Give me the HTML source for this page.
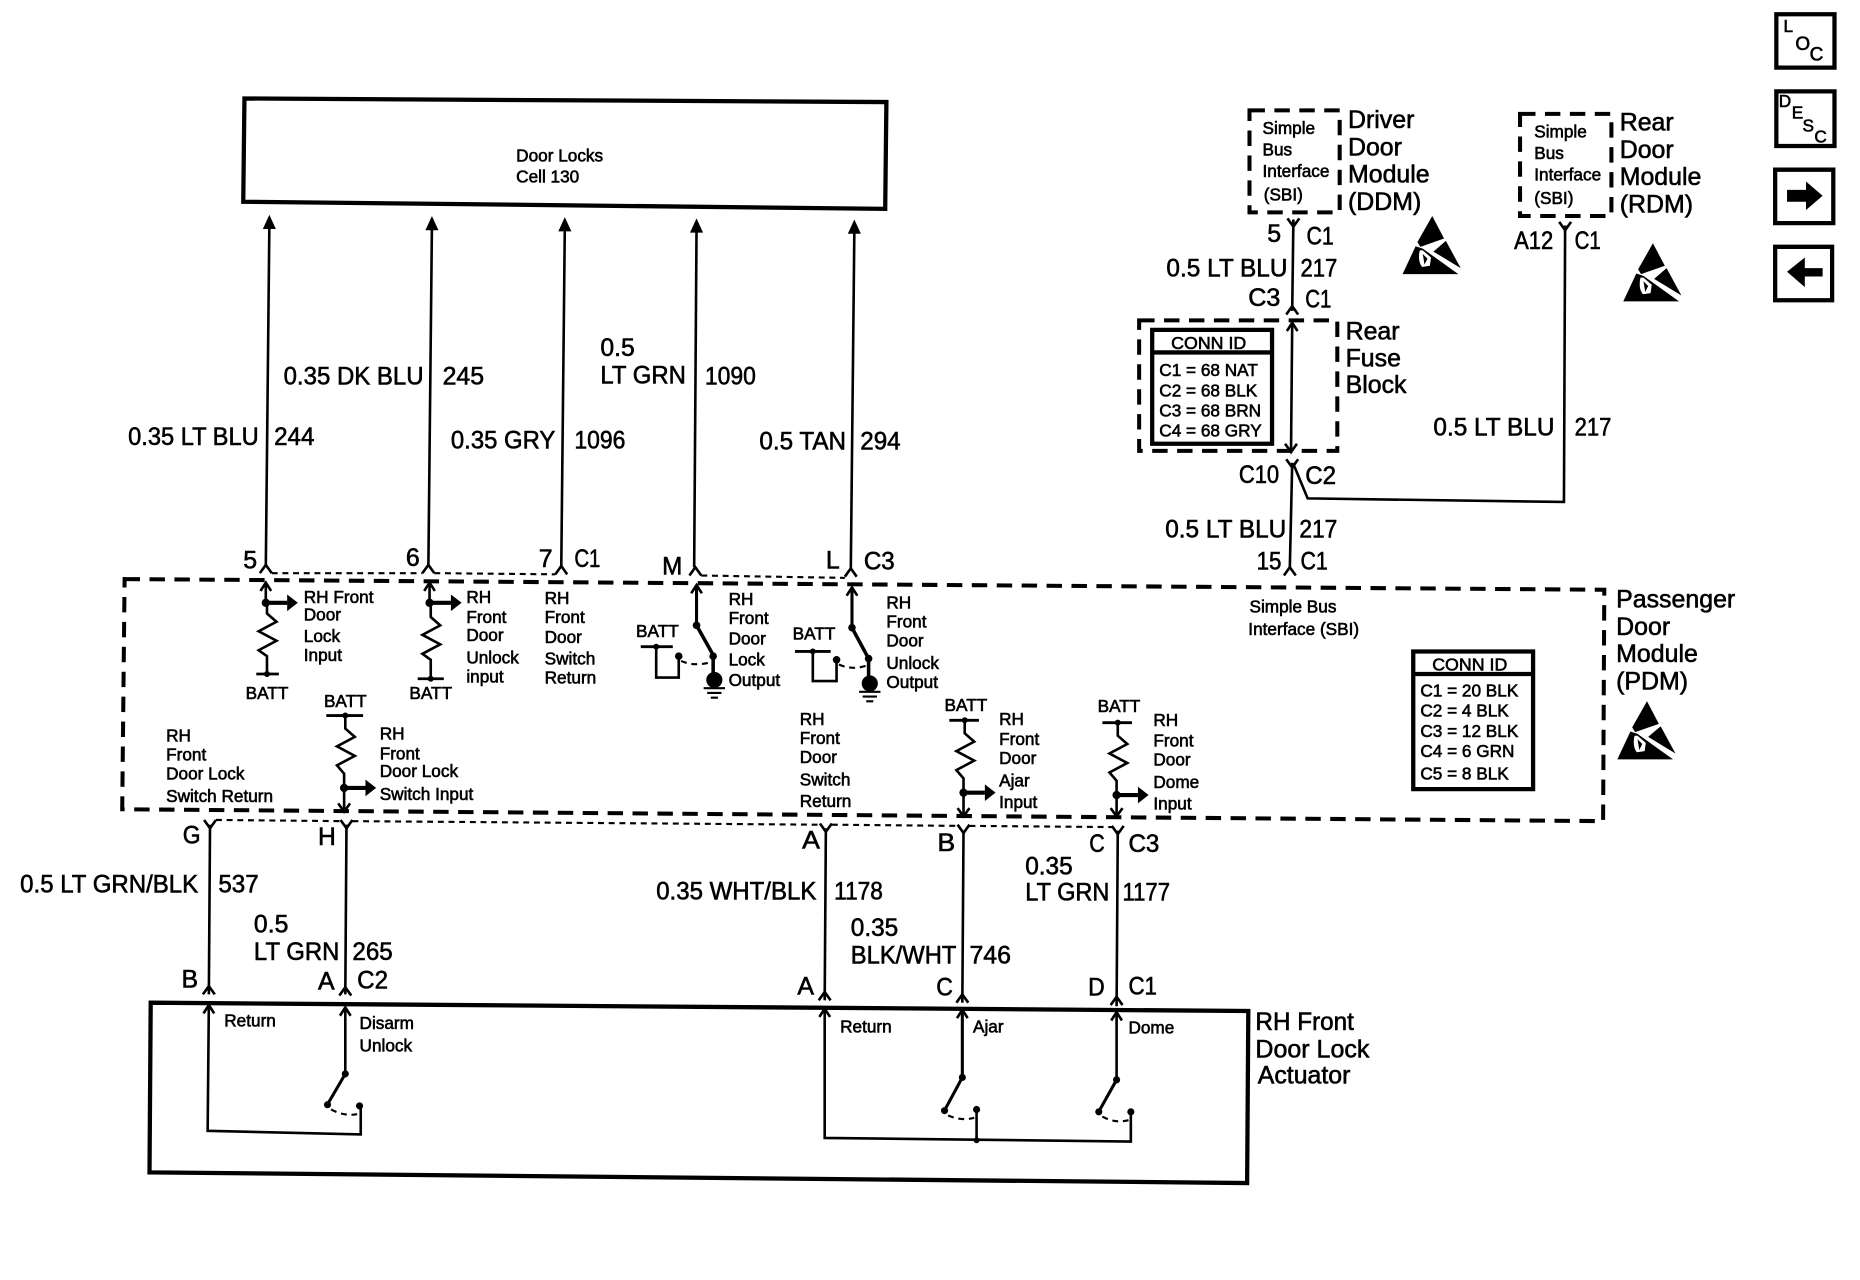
<!DOCTYPE html>
<html><head><meta charset="utf-8"><style>
html,body{margin:0;padding:0;background:#fff}
svg{display:block}
text{font-family:"Liberation Sans",sans-serif;fill:#000;stroke:#000;stroke-width:.5}
.b{font-size:21px}.s{font-size:14.5px}.n{font-size:14.5px}
.w{fill:none;stroke:#000;stroke-width:2.2}
.t{fill:none;stroke:#000;stroke-width:3.6}
.d{fill:none;stroke:#000;stroke-width:3.4;stroke-dasharray:13 8}
.h{fill:none;stroke:#000;stroke-width:1.8;stroke-dasharray:5 4}
.f{fill:#000;stroke:none}
</style></head><body>
<svg xmlns="http://www.w3.org/2000/svg" width="1860" height="1280" viewBox="0 0 1567.5 1078.7">
<defs>
<path id="c" d="M-5,7L0,0L5,7" fill="none" stroke="#000" stroke-width="2.2"/>
<path id="y" d="M-5,-7L0,0L5,-7" fill="none" stroke="#000" stroke-width="2.2"/>
<path id="a" d="M-5.5,12L0,0L5.5,12Z" fill="#000"/>
<path id="u" d="M-4.5,7L0,0L4.5,7" fill="none" stroke="#000" stroke-width="2.2"/>
<g id="e"><path d="M25,0L35,19L15,26L12.5,22Z"/><path d="M36.5,21L49,44L26,30Z"/><path d="M11,25.5L0,49H47L17,27.5Z"/><path d="M14.5,29Q12.5,38 16.5,43L23,42L24,35L17,29Z" fill="#fff"/><path d="M17,32L18.5,41L21,36Z"/></g>
<g id="r"><circle r="3.5" class="f"/><path d="M0,0H18" stroke="#000" stroke-width="3.5"/><path d="M18,-7L27,0L18,7Z" fill="#000"/></g>
</defs>
<path class="t" d="M206,83L747,86L746,176L205,170Z"/>
<text class="s" x="435" y="136">Door Locks</text><text class="s" x="435" y="154">Cell 130</text>

<path class="w" d="M224,478L227,190M361,478L364,190M473,478L476,190M585,478L587,192M717,480L720,194"/>
<use href="#a" x="227" y="181"/><use href="#a" x="364" y="182"/><use href="#a" x="476" y="183"/><use href="#a" x="587" y="184"/><use href="#a" x="720" y="185"/>
<use href="#c" x="224" y="476"/><use href="#c" x="361" y="476"/><use href="#c" x="473" y="477"/><use href="#c" x="586" y="478"/><use href="#c" x="717" y="479"/>
<path class="h" d="M229,483L356,483M366,483L468,484M591,485L712,487M182,691L287,692M297,692L691,695M701,695L807,696M817,696L937,697"/>

<text class="b" x="108" y="375" textLength="110" lengthAdjust="spacingAndGlyphs">0.35 LT BLU</text><text class="b" x="231" y="375" textLength="34" lengthAdjust="spacingAndGlyphs">244</text>
<text class="b" x="239" y="324" textLength="118" lengthAdjust="spacingAndGlyphs">0.35 DK BLU</text><text class="b" x="373" y="324" textLength="35" lengthAdjust="spacingAndGlyphs">245</text>
<text class="b" x="380" y="378" textLength="88" lengthAdjust="spacingAndGlyphs">0.35 GRY</text><text class="b" x="484" y="378" textLength="43" lengthAdjust="spacingAndGlyphs">1096</text>
<text class="b" x="506" y="300" textLength="29" lengthAdjust="spacingAndGlyphs">0.5</text><text class="b" x="506" y="323" textLength="72" lengthAdjust="spacingAndGlyphs">LT GRN</text><text class="b" x="594" y="324" textLength="43" lengthAdjust="spacingAndGlyphs">1090</text>
<text class="b" x="640" y="379" textLength="73" lengthAdjust="spacingAndGlyphs">0.5 TAN</text><text class="b" x="725" y="379" textLength="34" lengthAdjust="spacingAndGlyphs">294</text>

<text class="b" x="205" y="479">5</text><text class="b" x="342" y="477">6</text><text class="b" x="454" y="478">7</text><text class="b" x="484" y="478" textLength="22" lengthAdjust="spacingAndGlyphs">C1</text>
<text class="b" x="558" y="484" textLength="17" lengthAdjust="spacingAndGlyphs">M</text><text class="b" x="696" y="479">L</text><text class="b" x="728" y="480" textLength="26" lengthAdjust="spacingAndGlyphs">C3</text>

<path class="d" d="M105,488L1352,497L1351,692L103,682Z"/>

<!-- RH Front Door Lock Input -->
<path class="w" d="M224,491V508M225,508V517L233,524L218,532L233,540L218,548L225,553V568"/><use href="#u" x="224" y="491"/>
<use href="#r" x="224" y="508"/><path d="M216,568H235" stroke="#000" stroke-width="2.4"/><circle cx="225" cy="568" r="2.5"/>
<text class="n" x="207" y="589" textLength="36" lengthAdjust="spacingAndGlyphs">BATT</text>
<text class="s" x="256" y="508">RH Front</text><text class="s" x="256" y="523">Door</text><text class="s" x="256" y="541">Lock</text><text class="s" x="256" y="557">Input</text>
<!-- Unlock Input -->
<path class="w" d="M362,491V508M363,508V520L371,527L356,535L371,543L356,551L363,556V572"/><use href="#u" x="362" y="491"/>
<use href="#r" x="362" y="508"/><path d="M352,572H374" stroke="#000" stroke-width="2.4"/><circle cx="363" cy="572" r="2.5"/>
<text class="n" x="345" y="589" textLength="36" lengthAdjust="spacingAndGlyphs">BATT</text>
<text class="s" x="393" y="508">RH</text><text class="s" x="393" y="525">Front</text><text class="s" x="393" y="540">Door</text><text class="s" x="393" y="559">Unlock</text><text class="s" x="393" y="575">input</text>
<text class="s" x="459" y="509">RH</text><text class="s" x="459" y="525">Front</text><text class="s" x="459" y="542">Door</text><text class="s" x="459" y="560">Switch</text><text class="s" x="459" y="576">Return</text>

<!-- Lock Output -->
<path class="w" d="M587,493V527" style="stroke-width:2.6"/><use href="#u" x="587" y="493"/><path d="M587,527L601,552V572" fill="none" stroke="#000" stroke-width="3"/>
<circle cx="587" cy="527" r="3.2"/><circle cx="601" cy="553" r="3.2"/><circle cx="572" cy="553" r="3.2"/>
<path d="M574,557Q585,562 599,558" class="h"/>
<circle cx="602" cy="573" r="6.8"/><path d="M593,580H611M596,584H608M599,588H605" stroke="#000" stroke-width="1.8"/>
<path d="M540,545H567" stroke="#000" stroke-width="2.4"/><circle cx="553" cy="545" r="2.5"/><path class="w" d="M553,545V571H572V553"/>
<text class="n" x="536" y="537" textLength="36" lengthAdjust="spacingAndGlyphs">BATT</text>
<text class="s" x="614" y="510">RH</text><text class="s" x="614" y="526">Front</text><text class="s" x="614" y="543">Door</text><text class="s" x="614" y="561">Lock</text><text class="s" x="614" y="578">Output</text>
<!-- Unlock Output -->
<path class="w" d="M718,495V529" style="stroke-width:2.6"/><use href="#u" x="718" y="495"/><path d="M718,529L732,555V575" fill="none" stroke="#000" stroke-width="3"/>
<circle cx="718" cy="529" r="3.2"/><circle cx="732" cy="555" r="3.2"/><circle cx="705" cy="556" r="3.2"/>
<path d="M707,560Q718,565 730,561" class="h"/>
<circle cx="733" cy="576" r="6.8"/><path d="M724,583H742M727,587H739M730,591H736" stroke="#000" stroke-width="1.8"/>
<path d="M670,549H700" stroke="#000" stroke-width="2.4"/><circle cx="685" cy="549" r="2.5"/><path class="w" d="M685,549V574H705V556"/>
<text class="n" x="668" y="539" textLength="36" lengthAdjust="spacingAndGlyphs">BATT</text>
<text class="s" x="747" y="513">RH</text><text class="s" x="747" y="529">Front</text><text class="s" x="747" y="545">Door</text><text class="s" x="747" y="564">Unlock</text><text class="s" x="747" y="580">Output</text>

<!-- Switch Input -->
<text class="n" x="273" y="596" textLength="36" lengthAdjust="spacingAndGlyphs">BATT</text>
<path d="M275,603H306" stroke="#000" stroke-width="2.4"/><circle cx="291" cy="603" r="2.5"/>
<path class="w" d="M291,603V614L299,621L284,629L299,637L284,645L290,652V684"/><use href="#y" x="290" y="684"/>
<use href="#r" x="290" y="664"/>
<text class="s" x="320" y="623">RH</text><text class="s" x="320" y="640">Front</text><text class="s" x="320" y="655">Door Lock</text><text class="s" x="320" y="674">Switch Input</text>
<text class="s" x="140" y="625">RH</text><text class="s" x="140" y="641">Front</text><text class="s" x="140" y="657">Door Lock</text><text class="s" x="140" y="676">Switch Return</text>
<text class="s" x="674" y="611">RH</text><text class="s" x="674" y="627">Front</text><text class="s" x="674" y="643">Door</text><text class="s" x="674" y="662">Switch</text><text class="s" x="674" y="680">Return</text>
<!-- Ajar -->
<text class="n" x="796" y="599" textLength="36" lengthAdjust="spacingAndGlyphs">BATT</text>
<path d="M800,607H825" stroke="#000" stroke-width="2.4"/><circle cx="813" cy="607" r="2.5"/>
<path class="w" d="M813,607V618L821,625L806,633L821,641L806,649L812,656V688"/><use href="#y" x="812" y="688"/>
<use href="#r" x="812" y="668"/>
<text class="s" x="842" y="611">RH</text><text class="s" x="842" y="628">Front</text><text class="s" x="842" y="644">Door</text><text class="s" x="842" y="663">Ajar</text><text class="s" x="842" y="681">Input</text>
<!-- Dome -->
<text class="n" x="925" y="600" textLength="36" lengthAdjust="spacingAndGlyphs">BATT</text>
<path d="M929,609H954" stroke="#000" stroke-width="2.4"/><circle cx="942" cy="609" r="2.5"/>
<path class="w" d="M942,609V620L950,627L935,635L950,643L935,651L941,658V688"/><use href="#y" x="941" y="688"/>
<use href="#r" x="941" y="670"/>
<text class="s" x="972" y="612">RH</text><text class="s" x="972" y="629">Front</text><text class="s" x="972" y="645">Door</text><text class="s" x="972" y="664">Dome</text><text class="s" x="972" y="682">Input</text>

<text class="s" x="1053" y="516">Simple Bus</text><text class="s" x="1052" y="535">Interface (SBI)</text>
<path class="t" d="M1191,549H1292V665H1191ZM1191,568H1292"/>
<text class="s" x="1207" y="565" style="font-size:15px">CONN ID</text>
<text class="s" x="1197" y="587">C1 = 20 BLK</text><text class="s" x="1197" y="604">C2 = 4 BLK</text><text class="s" x="1197" y="621">C3 = 12 BLK</text><text class="s" x="1197" y="638">C4 = 6 GRN</text><text class="s" x="1197" y="657">C5 = 8 BLK</text>
<text class="b" x="1362" y="512">Passenger</text><text class="b" x="1362" y="535">Door</text><text class="b" x="1362" y="558">Module</text><text class="b" x="1362" y="581">(PDM)</text>
<use href="#e" x="1363" y="591"/>

<!-- lower wires -->
<path class="w" d="M177,695L176,838M292,695L291,838M696,698L695,843M812,700L811,845M942,700L941,848"/>
<use href="#y" x="177" y="698"/><use href="#y" x="292" y="698"/><use href="#y" x="696" y="701"/><use href="#y" x="812" y="702"/><use href="#y" x="942" y="703"/>
<use href="#c" x="176" y="831"/><use href="#c" x="291" y="832"/><use href="#c" x="695" y="836"/><use href="#c" x="811" y="838"/><use href="#c" x="941" y="840"/>

<text class="b" x="154" y="711" textLength="15" lengthAdjust="spacingAndGlyphs">G</text><text class="b" x="268" y="712" textLength="15" lengthAdjust="spacingAndGlyphs">H</text>
<text class="b" x="676" y="715" textLength="15" lengthAdjust="spacingAndGlyphs">A</text><text class="b" x="790" y="717" textLength="15" lengthAdjust="spacingAndGlyphs">B</text><text class="b" x="918" y="718" textLength="13" lengthAdjust="spacingAndGlyphs">C</text><text class="b" x="951" y="718" textLength="26" lengthAdjust="spacingAndGlyphs">C3</text>
<text class="b" x="17" y="752" textLength="150" lengthAdjust="spacingAndGlyphs">0.5 LT GRN/BLK</text><text class="b" x="184" y="752" textLength="34" lengthAdjust="spacingAndGlyphs">537</text>
<text class="b" x="214" y="786" textLength="29" lengthAdjust="spacingAndGlyphs">0.5</text><text class="b" x="214" y="809" textLength="72" lengthAdjust="spacingAndGlyphs">LT GRN</text><text class="b" x="297" y="809" textLength="34" lengthAdjust="spacingAndGlyphs">265</text>
<text class="b" x="553" y="758" textLength="135" lengthAdjust="spacingAndGlyphs">0.35 WHT/BLK</text><text class="b" x="703" y="758" textLength="41" lengthAdjust="spacingAndGlyphs">1178</text>
<text class="b" x="717" y="789" textLength="40" lengthAdjust="spacingAndGlyphs">0.35</text><text class="b" x="717" y="812" textLength="89" lengthAdjust="spacingAndGlyphs">BLK/WHT</text><text class="b" x="817" y="812" textLength="35" lengthAdjust="spacingAndGlyphs">746</text>
<text class="b" x="864" y="737" textLength="40" lengthAdjust="spacingAndGlyphs">0.35</text><text class="b" x="864" y="759" textLength="71" lengthAdjust="spacingAndGlyphs">LT GRN</text><text class="b" x="946" y="759" textLength="40" lengthAdjust="spacingAndGlyphs">1177</text>
<text class="b" x="153" y="832" textLength="14" lengthAdjust="spacingAndGlyphs">B</text><text class="b" x="268" y="834" textLength="14" lengthAdjust="spacingAndGlyphs">A</text><text class="b" x="301" y="833" textLength="26" lengthAdjust="spacingAndGlyphs">C2</text>
<text class="b" x="672" y="838" textLength="14" lengthAdjust="spacingAndGlyphs">A</text><text class="b" x="789" y="839" textLength="14" lengthAdjust="spacingAndGlyphs">C</text><text class="b" x="917" y="839" textLength="14" lengthAdjust="spacingAndGlyphs">D</text><text class="b" x="951" y="838" textLength="24" lengthAdjust="spacingAndGlyphs">C1</text>

<!-- Actuator -->
<path class="t" d="M127,845L1052,852L1051,997L126,988Z"/>
<path class="w" d="M176,847L175,953L304,956V932M291,849V905"/><path d="M291,905L277,929" stroke="#000" stroke-width="2.6"/>
<use href="#u" x="176" y="847"/><use href="#u" x="291" y="849"/>
<circle cx="291" cy="905" r="3"/><circle cx="276" cy="931" r="3"/><circle cx="303" cy="932" r="3"/><path class="h" d="M279,935Q290,941 301,939"/>
<path class="w" d="M695,850V959L953,962V937"/><use href="#u" x="695" y="850"/>
<path class="w" d="M823,935V961"/><circle cx="823" cy="961" r="2.5"/>
<path d="M811,851V908" stroke="#000" stroke-width="2.6"/><use href="#u" x="811" y="851"/><path class="w" d="M941,853V910"/><use href="#u" x="941" y="853"/>
<path d="M811,908L797,934M941,910L927,935" stroke="#000" stroke-width="2.6"/>
<circle cx="811" cy="908" r="3"/><circle cx="796" cy="936" r="3"/><circle cx="823" cy="935" r="3"/><circle cx="941" cy="910" r="3"/><circle cx="926" cy="937" r="3"/><circle cx="953" cy="937" r="3"/>
<path class="h" d="M799,940Q810,945 821,942M929,941Q940,947 951,944"/>
<text class="s" x="189" y="865">Return</text><text class="s" x="303" y="867">Disarm</text><text class="s" x="303" y="886">Unlock</text>
<text class="s" x="708" y="870">Return</text><text class="s" x="820" y="870">Ajar</text><text class="s" x="951" y="871">Dome</text>
<text class="b" x="1058" y="868" textLength="83" lengthAdjust="spacingAndGlyphs">RH Front</text><text class="b" x="1058" y="891" textLength="96" lengthAdjust="spacingAndGlyphs">Door Lock</text><text class="b" x="1060" y="913" textLength="78" lengthAdjust="spacingAndGlyphs">Actuator</text>

<!-- DDM -->
<path class="d" d="M1053,93H1129V179H1053Z"/>
<text class="s" x="1064" y="113">Simple</text><text class="s" x="1064" y="131">Bus</text><text class="s" x="1064" y="149">Interface</text><text class="s" x="1065" y="169">(SBI)</text>
<text class="b" x="1136" y="108">Driver</text><text class="b" x="1136" y="131">Door</text><text class="b" x="1136" y="154">Module</text><text class="b" x="1136" y="177">(DDM)</text>
<use href="#e" x="1182" y="182"/>
<path class="w" d="M1090,185L1089,262"/><use href="#y" x="1090" y="191"/><use href="#c" x="1089" y="258"/>
<text class="b" x="1068" y="204">5</text><text class="b" x="1101" y="206" textLength="23" lengthAdjust="spacingAndGlyphs">C1</text>
<text class="b" x="983" y="233" textLength="102" lengthAdjust="spacingAndGlyphs">0.5 LT BLU</text><text class="b" x="1096" y="233" textLength="31" lengthAdjust="spacingAndGlyphs">217</text>
<text class="b" x="1052" y="258" textLength="27" lengthAdjust="spacingAndGlyphs">C3</text><text class="b" x="1100" y="259" textLength="22" lengthAdjust="spacingAndGlyphs">C1</text>

<!-- Rear Fuse Block -->
<path class="d" d="M960,270H1127V380H960Z"/>
<path class="t" d="M971,278H1072V374H971ZM971,297H1072"/>
<text class="s" x="987" y="294" style="font-size:15px">CONN ID</text>
<text class="s" x="977" y="317">C1 = 68 NAT</text><text class="s" x="977" y="334">C2 = 68 BLK</text><text class="s" x="977" y="351">C3 = 68 BRN</text><text class="s" x="977" y="368">C4 = 68 GRY</text>
<path class="w" d="M1089,272L1088,380"/><use href="#u" x="1089" y="272"/><use href="#y" x="1088" y="381"/>
<text class="b" x="1134" y="286">Rear</text><text class="b" x="1134" y="309">Fuse</text><text class="b" x="1134" y="331">Block</text>
<path class="w" d="M1089,390L1087,478M1090,391L1102,420L1318,423L1319,190"/><use href="#y" x="1089" y="394"/><use href="#y" x="1319" y="194"/><use href="#c" x="1087" y="478"/>
<text class="b" x="1044" y="407" textLength="34" lengthAdjust="spacingAndGlyphs">C10</text><text class="b" x="1100" y="408" textLength="26" lengthAdjust="spacingAndGlyphs">C2</text>
<text class="b" x="982" y="453" textLength="102" lengthAdjust="spacingAndGlyphs">0.5 LT BLU</text><text class="b" x="1095" y="453" textLength="32" lengthAdjust="spacingAndGlyphs">217</text>
<text class="b" x="1059" y="480" textLength="21" lengthAdjust="spacingAndGlyphs">15</text><text class="b" x="1096" y="480" textLength="23" lengthAdjust="spacingAndGlyphs">C1</text>

<!-- RDM -->
<path class="d" d="M1281,96H1358V182H1281Z"/>
<text class="s" x="1293" y="116">Simple</text><text class="s" x="1293" y="134">Bus</text><text class="s" x="1293" y="152">Interface</text><text class="s" x="1293" y="172">(SBI)</text>
<text class="b" x="1365" y="110">Rear</text><text class="b" x="1365" y="133">Door</text><text class="b" x="1365" y="156">Module</text><text class="b" x="1365" y="179">(RDM)</text>
<use href="#e" x="1368" y="205"/>
<text class="b" x="1276" y="210" textLength="33" lengthAdjust="spacingAndGlyphs">A12</text><text class="b" x="1327" y="210" textLength="22" lengthAdjust="spacingAndGlyphs">C1</text>
<text class="b" x="1208" y="367" textLength="102" lengthAdjust="spacingAndGlyphs">0.5 LT BLU</text><text class="b" x="1327" y="367" textLength="31" lengthAdjust="spacingAndGlyphs">217</text>

<!-- Icons -->
<path class="t" d="M1497,12H1546V57H1497ZM1497,77H1546V123H1497ZM1496,143H1545V188H1496ZM1496,208H1544V253H1496Z"/>
<text class="s" x="1503" y="27">L</text><text class="s" x="1513" y="42" style="font-size:16px">O</text><text class="s" x="1525" y="51" style="font-size:16px">C</text>
<text class="s" x="1499" y="90">D</text><text class="s" x="1510" y="100">E</text><text class="s" x="1519" y="111">S</text><text class="s" x="1529" y="120">C</text>
<path d="M1506,160H1522V153L1536,165L1522,177V170H1506Z"/>
<path d="M1536,226H1521V217L1506,229L1521,242V233H1536Z"/>
</svg>
</body></html>
